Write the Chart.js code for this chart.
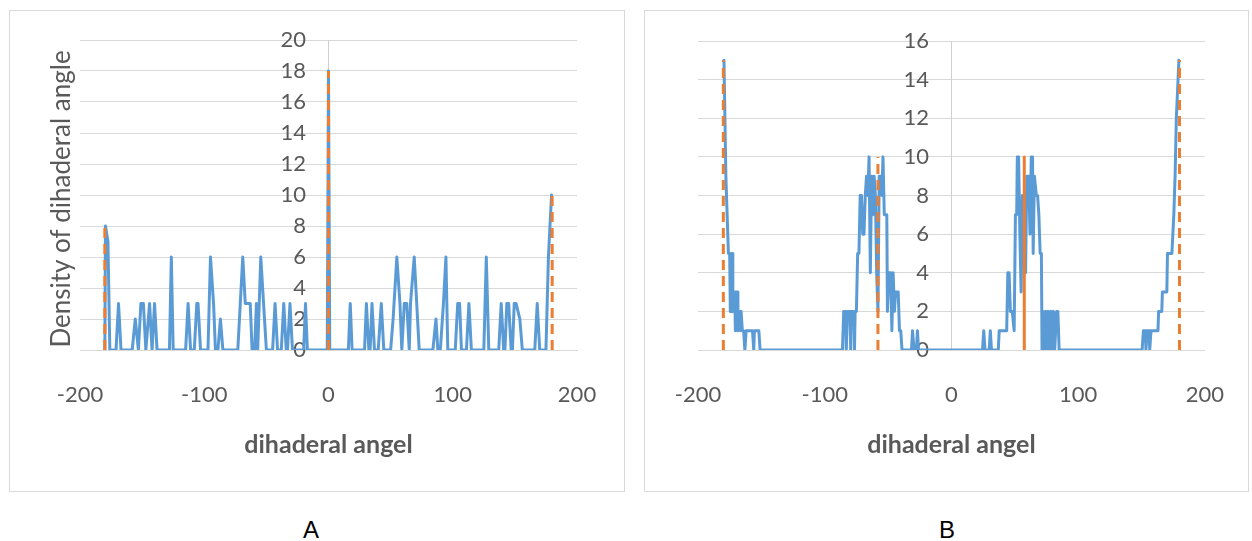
<!DOCTYPE html>
<html>
<head>
<meta charset="utf-8">
<script src="https://cdn.jsdelivr.net/npm/chart.js@4.4.1/dist/chart.umd.min.js"></script>
<style>
    html, body { margin: 0; padding: 0; background: #fff; }
    body { width: 1252px; height: 541px; position: relative; overflow: hidden; }
    .panel { position: absolute; border: 1px solid #d9d9d9; box-sizing: border-box; }
    .panel .box { position: absolute; left: 0; top: 0; right: 0; bottom: 0; }
    #panelA { left: 9px; top: 10px; width: 616px; height: 482px; }
    #panelB { left: 644px; top: 10px; width: 605px; height: 482px; }
    .caption { position: absolute; top: 516px; width: 40px; text-align: center;
               font: 24px "Liberation Sans", Arial, sans-serif; color: #000; }
</style>
</head>
<body>

<div class="panel" id="panelA"><div class="box"><canvas id="chartA"></canvas></div></div>
<div class="panel" id="panelB"><div class="box"><canvas id="chartB"></canvas></div></div>
<div class="caption" style="left:291px">A</div>
<div class="caption" style="left:927px">B</div>

<script>
// ---- data ----
const xTicks = [-200, -100, 0, 100, 200];

// panel A : density per dihedral angle
const aAngle = [-180, -179.5, -177.5, -176, -171, -169, -167, -158, -155.5, -153, -151, -149, -147, -144, -142, -140, -138,
    -128, -126.5, -125, -115, -113, -111, -108, -106, -105, -103, -97, -95, -92.5, -91, -89, -87, -85,
    -73, -71, -69, -67, -63, -61.5, -59.5, -58, -57, -54.5, -51.5, -50, -45, -43, -41, -38, -36, -34, -33, -31, -29,
    -20, -18.5, -17, -1, 0, 1, 16, 17.5, 19, 29, 30.5, 32.5, 33.5, 35, 37, 40, 42.5, 44.5,
    50, 52, 55, 57.5, 59, 61, 63, 65, 66, 69, 71, 73, 84, 86.5, 88, 90, 92.5, 94.5, 96,
    102, 104, 105.5, 107, 111, 113, 115, 125, 127, 129, 137, 139, 141, 142, 143.5, 145, 147,
    148, 149.5, 151, 154, 156, 166, 168, 170, 175, 177, 179.5];
const aDensity = [0, 8, 7, 0, 0, 3, 0, 0, 2, 0, 3, 3, 0, 3, 0, 3, 0,
    0, 6, 0, 0, 3, 0, 0, 3, 3, 0, 0, 6, 3, 0, 0, 2, 0,
    0, 3, 6, 3, 3, 0, 0, 3, 0, 6, 2, 0, 0, 3, 0, 0, 3, 0, 0, 3, 0,
    0, 3, 0, 0, 18, 0, 0, 3, 0, 0, 3, 0, 0, 3, 0, 0, 3, 0,
    0, 2, 6, 3, 0, 3, 3, 0, 3, 6, 3, 0, 0, 2, 0, 0, 3, 6, 0,
    0, 3, 3, 0, 0, 3, 0, 0, 6, 0, 0, 3, 0, 0, 3, 3, 0,
    0, 3, 3, 2, 0, 0, 3, 0, 0, 6, 10];
const aMarkAngle = [-180, 0, 180];
const aMarkHeight = [8, 18, 10];

// panel B
const bAngle = [-179.5, -178, -176.5, -176, -175, -174.5, -174, -173, -172.5, -172, -171, -170.5, -170, -169, -168.5,
    -168, -167, -166.5, -166, -165, -164, -163, -162, -157, -156, -155.5, -152, -151,
    -86, -85, -83.5, -83, -82, -80, -79.5, -79, -77, -76.5, -76, -75, -74, -73, -72, -71, -70, -69, -68, -67,
    -66, -65, -64, -63, -62, -61, -60, -59, -58, -57, -56, -55, -54, -53, -52, -51, -50.5, -49.5, -48, -47,
    -46, -45, -44, -42, -41, -40, -39, -31.5, -30.7, -29.5, -27.7, -26.8, -26,
    24.5, 25.5, 26.5, 29.8, 30.7, 31.6, 37, 37.7, 43.6, 44.5, 45.5, 46.5, 48, 49.5, 50.5, 51.5, 52, 53,
    54, 55, 56, 57, 58.5, 59.5, 61, 62, 63, 64, 64.5, 65.5, 67, 68, 69, 70, 71, 71.5, 72.5, 73.5, 74.5,
    75.5, 76.5, 77.5, 78.5, 79.5, 80.5, 81.5, 83, 84, 85,
    150.5, 151.5, 153, 153.5, 154.5, 156, 156.5, 157.5, 163, 163.5, 166, 166.5, 170, 170.5, 174,
    175.5, 176.5, 177.5, 179.5];
const bDensity = [15, 9, 6, 5, 5, 2, 5, 5, 2, 3, 3, 1, 3, 3, 1,
    2, 2, 1, 2, 1, 1, 0, 1, 1, 0, 1, 1, 0,
    0, 2, 2, 0, 2, 2, 0, 2, 2, 0, 2, 2, 5, 5, 8, 8, 6, 6, 8, 9,
    8, 10, 4, 9, 7, 9, 8, 4, 2, 9, 9, 8, 10, 7, 7, 7, 2, 4, 4, 1,
    4, 2, 3, 3, 1, 1, 0, 0, 1, 0, 0, 1, 0,
    0, 1, 0, 0, 1, 0, 0, 1, 1, 4, 4, 2, 2, 1, 7, 7, 10, 10,
    6, 3, 8, 7, 4, 9, 9, 6, 10, 10, 5, 9, 8, 8, 7, 5, 5, 0, 2, 0, 2,
    0, 2, 0, 2, 0, 2, 0, 2, 2, 0,
    0, 1, 1, 0, 1, 1, 0, 1, 1, 2, 2, 3, 3, 5, 5,
    7, 9, 12, 15];
const bMarkAngle = [-180, -58, 180];
const bMarkHeight = [15, 10, 15];
const bSolidAngle = [57.5];
const bSolidHeight = [10];

// ---- helpers ----
const blue = '#5B9BD5';
const orange = '#ED7D31';
const grey = '#595959';

function points(xs, ys) {
    return xs.map((x, i) => ({ x: x, y: ys[i] }));
}

// vertical marker lines, broken by gaps
function markers(xs, hs) {
    const out = [];
    xs.forEach((x, i) => {
        out.push({ x: x, y: 0 }, { x: x, y: hs[i] }, { x: x, y: null });
    });
    return out;
}

const yTitlePlugin = {
    id: 'yTitle',
    afterDraw(chart, args, opts) {
        if (!opts.text) return;
        const { ctx, chartArea } = chart;
        ctx.save();
        ctx.translate(chartArea.left - opts.offset, (chartArea.top + chartArea.bottom) / 2 + 4);
        ctx.rotate(-Math.PI / 2);
        ctx.font = '26px Lato';
        ctx.fillStyle = grey;
        ctx.textAlign = 'center';
        ctx.textBaseline = 'middle';
        ctx.fillText(opts.text, 0, 0);
        ctx.restore();
    }
};

function makeChart(id, datasets, yMax, pad, yTitle) {
    const ctx = document.getElementById(id).getContext('2d');
    return new Chart(ctx, {
        type: 'line',
        data: { datasets: datasets },
        plugins: [yTitlePlugin],
        options: {
            responsive: true,
            maintainAspectRatio: false,
            animation: false,
            devicePixelRatio: 1,
            layout: { padding: pad },
            elements: { point: { radius: 0 }, line: { tension: 0 } },
            plugins: {
                legend: { display: false },
                tooltip: { enabled: false },
                yTitle: { text: yTitle, offset: 18 }
            },
            scales: {
                x: {
                    type: 'linear',
                    min: -200,
                    max: 200,
                    afterBuildTicks: function (scale) {
                        scale.ticks = xTicks.map(v => ({ value: v }));
                    },
                    afterFit: function (scale) {
                        scale.height = 122;
                    },
                    grid: { display: false },
                    border: { color: '#d9d9d9', width: 1 },
                    ticks: { font: { family: 'Lato', size: 22 }, color: grey, padding: 24, maxRotation: 0 },
                    title: {
                        display: true,
                        text: 'dihaderal angel',
                        font: { family: 'Lato', size: 25, weight: 'bold' },
                        color: grey,
                        padding: { top: 0, bottom: 12 }
                    }
                },
                y: {
                    position: { x: 0 },
                    min: 0,
                    max: yMax,
                    ticks: {
                        stepSize: 2,
                        font: { family: 'Lato', size: 22 },
                        color: grey,
                        // gap between the labels and the axis line at x = 0
                        callback: v => v + '    '
                    },
                    grid: { color: '#d9d9d9', drawTicks: false },
                    border: { color: '#cfcfcf', width: 1 }
                }
            }
        }
    });
}

function lineSet(data, color, dash) {
    return {
        data: data,
        borderColor: color,
        borderWidth: 3,
        borderDash: dash,
        borderJoinStyle: 'round',
        borderCapStyle: dash.length ? 'butt' : 'round',
        spanGaps: false,
        fill: false
    };
}

makeChart('chartA', [
    lineSet(markers(aMarkAngle, aMarkHeight), orange, [10, 6]),
    lineSet(points(aAngle, aDensity), blue, [])
], 20, { left: 70, right: 47, top: 29, bottom: 19 }, 'Density of dihaderal angle');

makeChart('chartB', [
    lineSet(markers(bMarkAngle, bMarkHeight), orange, [10, 6]),
    lineSet(markers(bSolidAngle, bSolidHeight), orange, []),
    lineSet(points(bAngle, bDensity), blue, [])
], 16, { left: 53, right: 35, top: 30, bottom: 19 }, '');
</script>
</body>
</html>
